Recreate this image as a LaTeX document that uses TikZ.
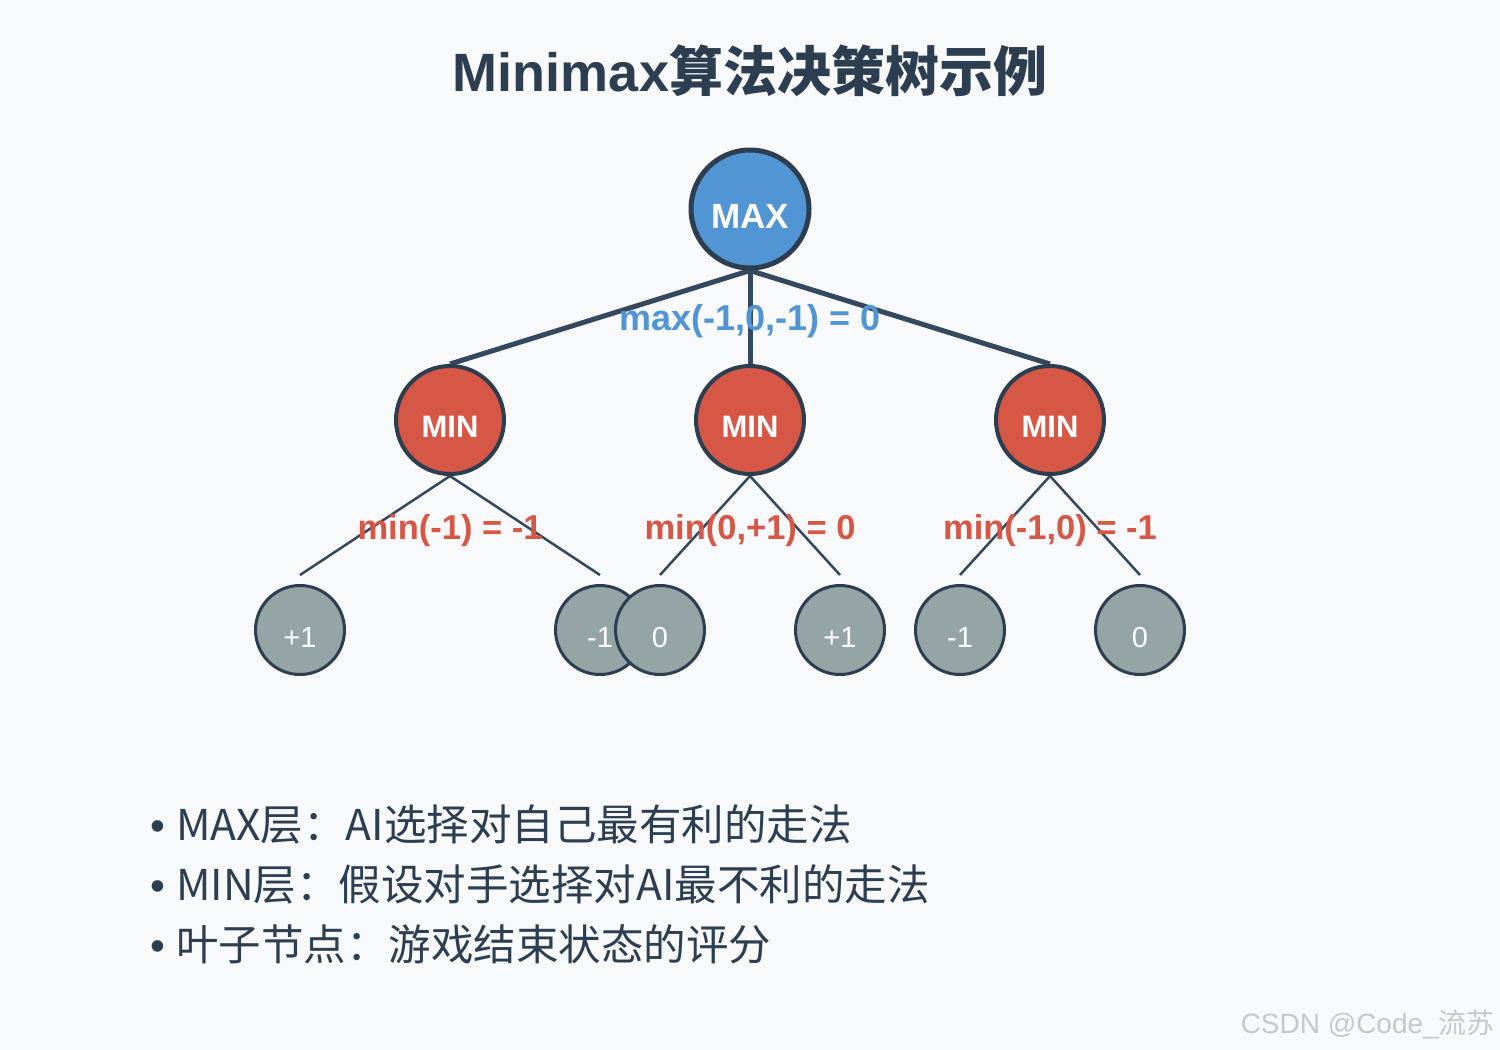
\documentclass[tikz,border=0pt]{standalone}
\usepackage{fontspec}
\setmainfont{Liberation Sans}
\newfontfamily\cjk{Noto Sans CJK SC}
\newfontfamily\latn{Liberation Sans}
\usetikzlibrary{calc}
\definecolor{bgc}{HTML}{F8F9FA}
\definecolor{dark}{HTML}{2C3E50}
\definecolor{edgec}{HTML}{34495E}
\definecolor{maxc}{HTML}{5295D4}
\definecolor{minc}{HTML}{D65746}
\definecolor{leafc}{HTML}{95A5A6}
\definecolor{wmc}{HTML}{C8C8C8}
\pgfdeclarelayer{bg}
\pgfdeclarelayer{edges}
\pgfsetlayers{bg,edges,main}
\tikzset{
  maxnode/.style={circle,draw=dark,line width=5pt,fill=maxc,minimum size=118pt,inner sep=0pt},
  minnode/.style={circle,draw=dark,line width=4pt,fill=minc,minimum size=108pt,inner sep=0pt},
  leafnode/.style={circle,draw=dark,line width=3pt,fill=leafc,minimum size=89pt,inner sep=0pt},
  maxtxt/.style={text=white,anchor=base,inner sep=0pt,font=\fontsize{35}{35}\selectfont\bfseries},
  mintxt/.style={text=white,anchor=base,inner sep=0pt,font=\fontsize{31}{31}\selectfont\bfseries},
  leaftxt/.style={text=white,anchor=base,inner sep=0pt,font=\fontsize{29}{29}\selectfont},
  topedge/.style={draw=edgec,line width=5pt},
  lowedge/.style={draw=edgec,line width=2.5pt},
  maxlab/.style={anchor=base,text=maxc,font=\fontsize{36}{36}\selectfont\bfseries},
  minlab/.style={anchor=base,text=minc,font=\fontsize{34.5}{34.5}\selectfont\bfseries},
  bullet/.style={anchor=base west,text=dark,inner sep=0pt,font=\cjk\fontsize{42.5}{42.5}\selectfont},
}
\newcommand{\bul}{{\latn •}\hspace{11pt}}
\begin{document}
\begin{tikzpicture}[x=1pt,y=-1pt]
\begin{pgfonlayer}{bg}
\fill[bgc] (0,0) rectangle (1500,1050);
\end{pgfonlayer}
\useasboundingbox (0,0) rectangle (1500,1050);

% title
\node[anchor=base,text=dark,inner sep=0pt] (title) at (750,91)
  {\fontsize{54}{54}\selectfont\bfseries Minimax{\cjk\bfseries 算法决策树示例}};

% nodes
\node[maxnode] (max) at (750,209) {};
\node[maxtxt] (maxt) at (750,228) {MAX};

\node[minnode] (m1) at (450,420) {};
\node[minnode] (m2) at (750,420) {};
\node[minnode] (m3) at (1050,420) {};
\foreach \x/\n in {450/1,750/2,1050/3}
  \node[mintxt] (mt\n) at (\x,437) {MIN};

\node[leafnode] (l1) at (300,630) {};
\node[leafnode] (l2) at (600,630) {};
\node[leafnode] (l4) at (840,630) {};
\node[leafnode] (l5) at (960,630) {};
\node[leafnode] (l6) at (1140,630) {};
\foreach \x/\t/\n in {300/+1/1,600/-1/2,840/+1/4,960/-1/5,1140/0/6}
  \node[leaftxt] (lt\n) at (\x,647) {\t};
\node[leafnode] (l3) at (660,630) {};
\node[leaftxt] (lt3) at (660,647) {0};

% connector free ends
\foreach \n in {1,...,6}
  \coordinate (e\n) at ($(l\n.center)+(0,-55)$);

\begin{pgfonlayer}{edges}
\draw[topedge] (max.south) -- (m1.north);
\draw[topedge] (max.south) -- (m2.north);
\draw[topedge] (max.south) -- (m3.north);
\draw[lowedge] (m1.south) -- (e1);
\draw[lowedge] (m1.south) -- (e2);
\draw[lowedge] (m2.south) -- (e3);
\draw[lowedge] (m2.south) -- (e4);
\draw[lowedge] (m3.south) -- (e5);
\draw[lowedge] (m3.south) -- (e6);
\end{pgfonlayer}

% value labels
\node[maxlab] (lmax) at (750,330) {max(-1,0,-1) = 0};
\node[minlab] (lm1) at (450,539) {min(-1) = -1};
\node[minlab] (lm2) at (750,539) {min(0,+1) = 0};
\node[minlab] (lm3) at (1050,539) {min(-1,0) = -1};

% bullets
\node[bullet] (b1) at (150,840) {\bul MAX层：AI选择对自己最有利的走法};
\node[bullet] (b2) at (150,900) {\bul MIN层：假设对手选择对AI最不利的走法};
\node[bullet] (b3) at (150,960) {\bul 叶子节点：游戏结束状态的评分};

% watermark
\node[anchor=base east,inner sep=0pt,text=wmc,font=\latn\fontsize{28}{28}\selectfont] (wm) at (1495,1033) {CSDN @Code\_{\cjk 流苏}};
\end{tikzpicture}
\end{document}
